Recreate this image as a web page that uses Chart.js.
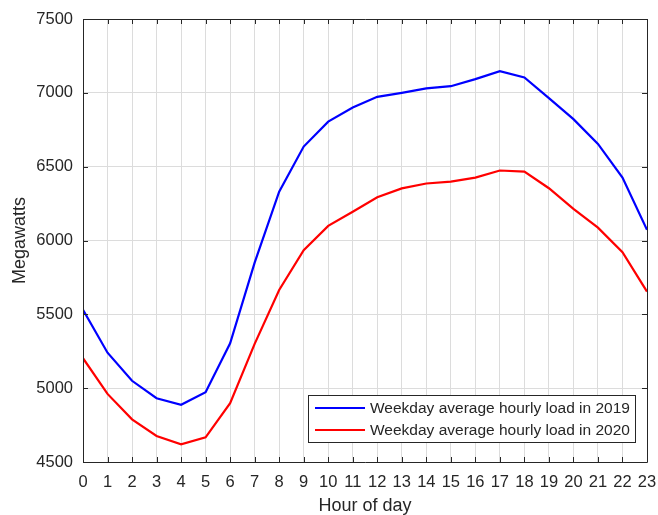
<!DOCTYPE html>
<html>
<head>
<meta charset="utf-8">
<script src="https://cdn.jsdelivr.net/npm/chart.js@4.4.1/dist/chart.umd.min.js"></script>
<style>
  html, body { margin: 0; padding: 0; background: #fff; }
  #wrap { width: 658px; height: 515px; }
</style>
</head>
<body>
<div id="wrap"><canvas id="loadChart" width="658" height="515"></canvas></div>
<script>
const hours = [0, 1, 2, 3, 4, 5, 6, 7, 8, 9, 10, 11, 12, 13, 14, 15, 16, 17, 18, 19, 20, 21, 22, 23];
const load2019 = [5530, 5240, 5050, 4932, 4888, 4972, 5304, 5850, 6331, 6636, 6805, 6900, 6973, 7000, 7030, 7045, 7093, 7147, 7104, 6964, 6822, 6654, 6426, 6072];
const load2020 = [5203, 4961, 4789, 4676, 4620, 4667, 4898, 5300, 5665, 5935, 6099, 6195, 6293, 6353, 6386, 6399, 6426, 6474, 6467, 6354, 6214, 6087, 5921, 5654];
const seriesNames = ['Weekday average hourly load in 2019', 'Weekday average hourly load in 2020'];
const yTicks = [4500, 5000, 5500, 6000, 6500, 7000, 7500];

const axisColor = '#262626';
const gridColor = '#dcdcdc';
const fontFamily = '"Liberation Sans", Arial, sans-serif';

// MATLAB style box with inward ticks, plus a legend drawn inside the axes
const boxPlugin = {
    id: 'matlabBox',
    afterDraw(chart) {
        const ctx = chart.ctx;
        const a = chart.chartArea;
        const xs = chart.scales.x;
        const ys = chart.scales.y;
        const tickLen = 5;

        ctx.save();
        ctx.strokeStyle = axisColor;
        ctx.lineWidth = 1;
        ctx.beginPath();
        ctx.rect(Math.round(a.left) + 0.5, Math.round(a.top) + 0.5, Math.round(a.right - a.left), Math.round(a.bottom - a.top));
        ctx.stroke();

        ctx.beginPath();
        hours.forEach(h => {
            const px = Math.round(xs.getPixelForValue(h)) + 0.5;
            ctx.moveTo(px, a.bottom);
            ctx.lineTo(px, a.bottom - tickLen);
            ctx.moveTo(px, a.top);
            ctx.lineTo(px, a.top + tickLen);
        });
        yTicks.forEach(v => {
            const py = Math.round(ys.getPixelForValue(v)) + 0.5;
            ctx.moveTo(a.left, py);
            ctx.lineTo(a.left + tickLen, py);
            ctx.moveTo(a.right, py);
            ctx.lineTo(a.right - tickLen, py);
        });
        ctx.stroke();

        // legend
        const bx = 308.5, by = 395.5, bw = 327, bh = 47;
        ctx.fillStyle = '#fff';
        ctx.fillRect(bx, by, bw, bh);
        ctx.strokeStyle = axisColor;
        ctx.strokeRect(bx, by, bw, bh);
        ctx.font = '15.5px ' + fontFamily;
        ctx.textBaseline = 'middle';
        ctx.textAlign = 'left';
        chart.data.datasets.forEach((ds, i) => {
            const ly = 408 + i * 22;
            ctx.strokeStyle = ds.borderColor;
            ctx.lineWidth = 2;
            ctx.beginPath();
            ctx.moveTo(315, ly);
            ctx.lineTo(365, ly);
            ctx.stroke();
            ctx.fillStyle = axisColor;
            ctx.fillText(ds.label, 370, ly + 1);
        });
        ctx.restore();
    }
};

function initChart() {
    const ctx = document.getElementById('loadChart').getContext('2d');
    new Chart(ctx, {
        type: 'line',
        data: {
            datasets: [{
                label: seriesNames[0],
                data: hours.map((h, i) => ({ x: h, y: load2019[i] })),
                borderColor: '#0000ff',
                borderWidth: 2.2,
                pointRadius: 0,
                tension: 0,
                fill: false
            }, {
                label: seriesNames[1],
                data: hours.map((h, i) => ({ x: h, y: load2020[i] })),
                borderColor: '#ff0000',
                borderWidth: 2.2,
                pointRadius: 0,
                tension: 0,
                fill: false
            }]
        },
        options: {
            responsive: false,
            animation: false,
            devicePixelRatio: 1,
            layout: { padding: { left: 11, right: 11, top: 19, bottom: 0 } },
            plugins: {
                legend: { display: false },
                tooltip: { enabled: false }
            },
            scales: {
                x: {
                    type: 'linear',
                    min: 0,
                    max: 23,
                    afterFit: s => { s.height = 53; s.paddingLeft = 0; s.paddingRight = 0; },
                    afterBuildTicks: s => { s.ticks = hours.map(v => ({ value: v })); },
                    grid: { color: gridColor, drawTicks: false },
                    border: { display: false },
                    ticks: {
                        autoSkip: false,
                        maxRotation: 0,
                        padding: 11,
                        color: axisColor,
                        font: { family: fontFamily, size: 16.5 }
                    },
                    title: {
                        display: true,
                        text: 'Hour of day',
                        color: axisColor,
                        padding: 0,
                        font: { family: fontFamily, size: 18, lineHeight: 1 }
                    }
                },
                y: {
                    min: 4500,
                    max: 7500,
                    afterFit: s => { s.width = 72; s.paddingTop = 0; s.paddingBottom = 0; },
                    afterBuildTicks: s => { s.ticks = yTicks.map(v => ({ value: v })); },
                    grid: { color: gridColor, drawTicks: false },
                    border: { display: false },
                    ticks: {
                        padding: 10,
                        color: axisColor,
                        font: { family: fontFamily, size: 16.5 },
                        callback: v => String(v)
                    },
                    title: {
                        display: true,
                        text: 'Megawatts',
                        color: axisColor,
                        padding: 0,
                        font: { family: fontFamily, size: 18, lineHeight: 1 }
                    }
                }
            }
        },
        plugins: [boxPlugin]
    });
}

document.addEventListener('DOMContentLoaded', initChart);
</script>
</body>
</html>
